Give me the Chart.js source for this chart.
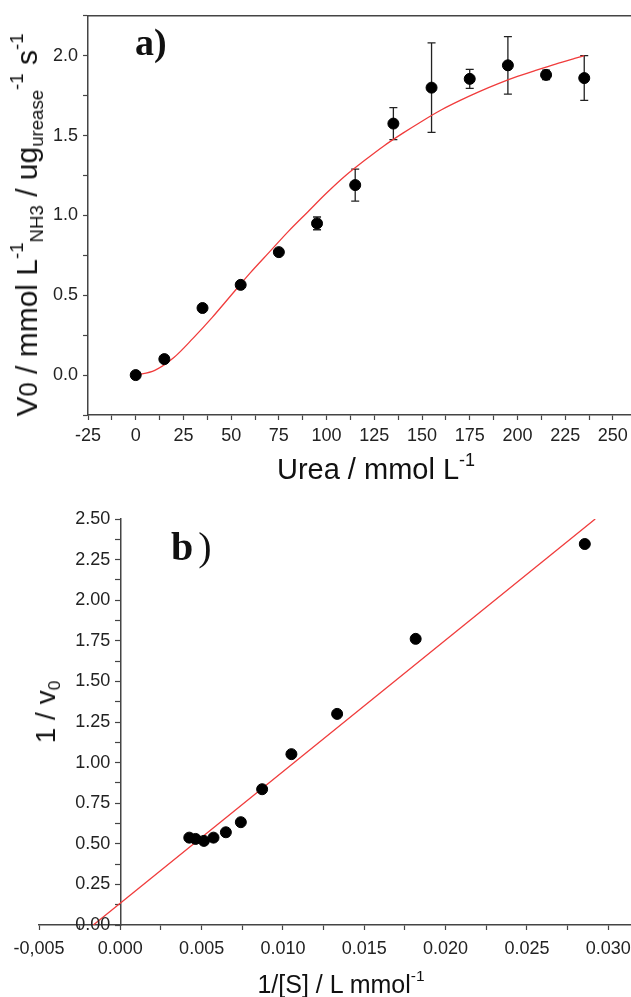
<!DOCTYPE html>
<html>
<head>
<meta charset="utf-8">
<script src="https://cdn.jsdelivr.net/npm/chart.js@4.4.1/dist/chart.umd.min.js"></script>
<style>
  body { margin:0; background:#fff; width:631px; height:997px; position:relative; overflow:hidden;
         font-family:"Liberation Sans", Arial, sans-serif; color:#111; }
  canvas { position:absolute; left:0; }
  #chartA { top:0; }
  #chartB { top:490px; }
  .txt { position:absolute; white-space:nowrap; line-height:1; }
  .lbl { font-family:"Liberation Serif", "Times New Roman", serif; font-weight:bold; }
  sub, sup { font-size:62%; line-height:0; position:relative; vertical-align:baseline; }
  sup { top:-0.75em; }
  sub { top:0.3em; }
</style>
</head>
<body>
<canvas id="chartA" width="631" height="490"></canvas>
<canvas id="chartB" width="631" height="507"></canvas>

<div class="txt lbl" style="left:135px; top:23px; font-size:38px;">a)</div>
<div class="txt lbl" style="left:171px; top:527px; font-size:40px;">b<span style="font-weight:normal; margin-left:5px;">)</span></div>

<div class="txt" style="left:27px; top:225px; font-size:30px; transform:translate(-50%,-50%) rotate(-90deg);">
  V<span style="font-size:85%">0</span> / mmol L<sup>-1</sup><sub>NH3</sub> / ug<sub>urease</sub><sup>-1</sup> s<sup>-1</sup>
</div>
<div class="txt" style="left:376px; top:455px; font-size:29px; transform:translateX(-50%);">Urea / mmol L<sup>-1</sup></div>

<div class="txt" style="left:46px; top:712px; font-size:28px; transform:translate(-50%,-50%) rotate(-90deg);">1 / v<sub>0</sub></div>
<div class="txt" style="left:341px; top:972px; font-size:25px; transform:translateX(-50%);">1/[S] / L mmol<sup>-1</sup></div>

<script>
// ==== Panel a) : rate vs urea ====
const ureaConc  = [0, 15, 35, 55, 75, 95, 115, 135, 155, 175, 195, 215, 235];
const rateMean  = [0.00, 0.10, 0.42, 0.565, 0.77, 0.95, 1.19, 1.575, 1.80, 1.855, 1.94, 1.88, 1.86];
const rateErr   = [0, 0, 0, 0, 0.01, 0.04, 0.10, 0.10, 0.28, 0.06, 0.18, 0.03, 0.14];
// fitted curve
const fitUrea   = [0, 10, 20, 30, 40, 50, 60, 70, 80, 90, 100, 110, 120, 130, 140, 150, 160, 170, 180, 190, 200, 210, 220, 230, 235];
const fitRate   = [0.00, 0.03, 0.11, 0.23, 0.36, 0.50, 0.64, 0.77, 0.90, 1.02, 1.14, 1.25, 1.345, 1.435, 1.515, 1.59, 1.66, 1.72, 1.775, 1.825, 1.87, 1.91, 1.948, 1.983, 2.00];
const ureaTicks = [-25, 0, 25, 50, 75, 100, 125, 150, 175, 200, 225, 250];
const ureaLabels = ["-25", "0", "25", "50", "75", "100", "125", "150", "175", "200", "225", "250"];
const rateTicks = [0, 0.5, 1.0, 1.5, 2.0];
const rateLabels = ["0.0", "0.5", "1.0", "1.5", "2.0"];

// ==== Panel b) : Lineweaver-Burk ====
const invS      = [0.00424, 0.00463, 0.00514, 0.00573, 0.00649, 0.00741, 0.00872, 0.01052, 0.01333, 0.01816, 0.02856];
const invV      = [0.538, 0.530, 0.518, 0.538, 0.571, 0.633, 0.836, 1.052, 1.300, 1.762, 2.346];
const lineX     = [-0.00166, 0.0292];
const lineY     = [0.00, 2.50];
const invSTicks = [-0.005, 0.000, 0.005, 0.010, 0.015, 0.020, 0.025, 0.030];
const invSLabels = ["-0,005", "0.000", "0.005", "0.010", "0.015", "0.020", "0.025", "0.030"];
const invVTicks = [0, 0.25, 0.5, 0.75, 1.0, 1.25, 1.5, 1.75, 2.0, 2.25, 2.5];
const invVLabels = ["0.00", "0.25", "0.50", "0.75", "1.00", "1.25", "1.50", "1.75", "2.00", "2.25", "2.50"];

const AXIS = "#444";
const TICKTXT = "#222";
const FONT = "'Liberation Sans', Arial, sans-serif";

// major ticks plus a minor one half way between (and past the ends, inside the range)
function withMinor(majors, min, max) {
  const half = (majors[1] - majors[0]) / 2;
  const out = [];
  majors.forEach(v => { out.push(v - half, v); });
  out.push(majors[majors.length - 1] + half);
  return out.filter(v => v >= min - 1e-9 && v <= max + 1e-9).map(v => ({ value: v }));
}
function labelFor(majors, labels) {
  return v => {
    const i = majors.findIndex(m => Math.abs(m - v) < 1e-9);
    return i >= 0 ? labels[i] : "";
  };
}
// the plot runs off the right edge, so the x axis keeps no side padding
function fitX(h) {
  return s => { s.height = h; s.paddingLeft = 0; s.paddingRight = 0; };
}

// error bars from the dataset's own scales
const errorBars = {
  id: "errorBars",
  beforeDatasetsDraw(chart) {
    const { ctx, scales: { x, y } } = chart;
    ctx.save();
    ctx.strokeStyle = "#222";
    ctx.lineWidth = 1.3;
    ureaConc.forEach((u, i) => {
      const e = rateErr[i];
      if (!e) return;
      const px = x.getPixelForValue(u);
      const top = y.getPixelForValue(rateMean[i] + e);
      const bot = y.getPixelForValue(rateMean[i] - e);
      ctx.beginPath();
      ctx.moveTo(px, top); ctx.lineTo(px, bot);
      ctx.moveTo(px - 4, top); ctx.lineTo(px + 4, top);
      ctx.moveTo(px - 4, bot); ctx.lineTo(px + 4, bot);
      ctx.stroke();
    });
    ctx.restore();
  }
};

// top frame line of panel a
const topFrame = {
  id: "topFrame",
  afterDraw(chart) {
    const { ctx, chartArea: a } = chart;
    ctx.save();
    ctx.strokeStyle = AXIS;
    ctx.lineWidth = 1.5;
    ctx.beginPath();
    ctx.moveTo(a.left, a.top); ctx.lineTo(a.right, a.top);
    ctx.stroke();
    ctx.restore();
  }
};

// y labels of panel b sit left of the axis that crosses at x = 0
const yLabelsB = {
  id: "yLabelsB",
  afterDraw(chart) {
    const { ctx, scales: { x, y } } = chart;
    const px = x.getPixelForValue(0) - 10;
    ctx.save();
    ctx.fillStyle = TICKTXT;
    ctx.font = "18px " + FONT;
    ctx.textAlign = "right";
    ctx.textBaseline = "middle";
    invVTicks.forEach((v, i) => ctx.fillText(invVLabels[i], px, y.getPixelForValue(v)));
    ctx.restore();
  }
};

function axisStyle() {
  return {
    grid: { display: true, drawOnChartArea: false, drawTicks: true, tickLength: 5, tickColor: AXIS, tickWidth: 1.2 },
    border: { display: true, color: AXIS, width: 1.5 }
  };
}

new Chart(document.getElementById("chartA"), {
  type: "scatter",
  data: {
    datasets: [
      {
        data: ureaConc.map((u, i) => ({ x: u, y: rateMean[i] })),
        backgroundColor: "#000", borderColor: "#000",
        pointRadius: 5.5, pointHoverRadius: 5.5
      },
      {
        type: "line",
        data: fitUrea.map((u, i) => ({ x: u, y: fitRate[i] })),
        borderColor: "#f03c3c", borderWidth: 1.3,
        pointRadius: 0, cubicInterpolationMode: "monotone", fill: false
      }
    ]
  },
  options: {
    responsive: false, animation: false, devicePixelRatio: 1,
    layout: { autoPadding: false, padding: { top: 13, right: 0, left: 0, bottom: 0 } },
    plugins: { legend: { display: false }, tooltip: { enabled: false } },
    scales: {
      x: {
        type: "linear", min: -25, max: 259.5,
        ...axisStyle(),
        afterBuildTicks: s => { s.ticks = withMinor(ureaTicks, -25, 259.5); },
        afterFit: fitX(75),
        ticks: {
          autoSkip: false, maxRotation: 0, padding: 5,
          color: TICKTXT, font: { family: FONT, size: 18 },
          callback: labelFor(ureaTicks, ureaLabels)
        }
      },
      y: {
        type: "linear", min: -0.25, max: 2.25,
        ...axisStyle(),
        afterBuildTicks: s => { s.ticks = withMinor(rateTicks, -0.25, 2.25); },
        afterFit: s => { s.width = 88; },
        ticks: {
          autoSkip: false, padding: 5,
          color: TICKTXT, font: { family: FONT, size: 18 },
          callback: labelFor(rateTicks, rateLabels)
        }
      }
    }
  },
  plugins: [errorBars, topFrame]
});

new Chart(document.getElementById("chartB"), {
  type: "scatter",
  data: {
    datasets: [
      {
        data: invS.map((s, i) => ({ x: s, y: invV[i] })),
        backgroundColor: "#000", borderColor: "#000",
        pointRadius: 5.5, pointHoverRadius: 5.5
      },
      {
        type: "line",
        data: lineX.map((s, i) => ({ x: s, y: lineY[i] })),
        borderColor: "#f03c3c", borderWidth: 1.3, pointRadius: 0, fill: false
      }
    ]
  },
  options: {
    responsive: false, animation: false, devicePixelRatio: 1,
    layout: { autoPadding: false, padding: { top: 29, right: 0, left: 39, bottom: 0 } },
    plugins: { legend: { display: false }, tooltip: { enabled: false } },
    scales: {
      x: {
        type: "linear", min: -0.005, max: 0.0314,
        ...axisStyle(),
        afterBuildTicks: s => { s.ticks = withMinor(invSTicks, -0.005, 0.0314); },
        afterFit: fitX(72),
        ticks: {
          autoSkip: false, maxRotation: 0, padding: 8,
          color: TICKTXT, font: { family: FONT, size: 18 },
          callback: labelFor(invSTicks, invSLabels)
        }
      },
      y: {
        type: "linear", min: 0, max: 2.5,
        position: { x: 0 },
        ...axisStyle(),
        afterBuildTicks: s => { s.ticks = withMinor(invVTicks, 0, 2.5); },
        ticks: { display: false }
      }
    }
  },
  plugins: [yLabelsB]
});
</script>
</body>
</html>
